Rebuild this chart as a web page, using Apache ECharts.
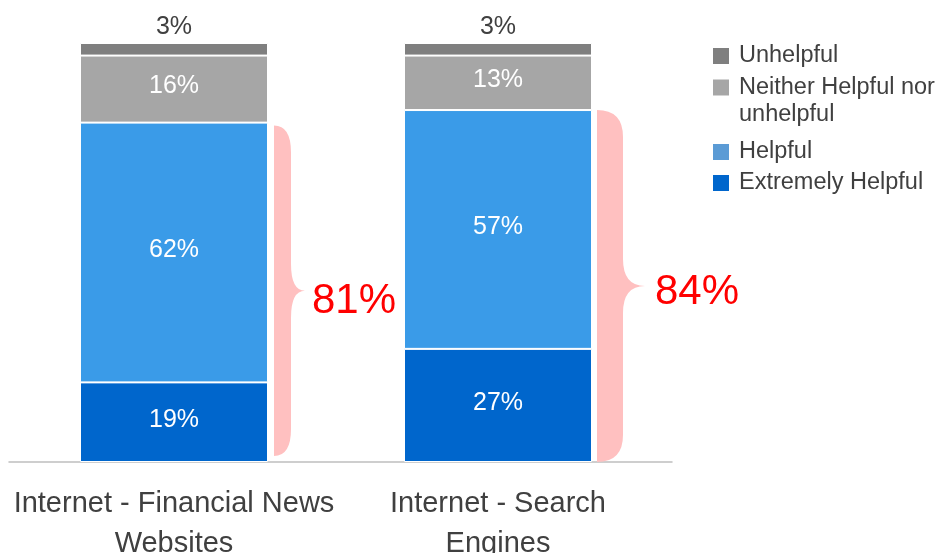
<!DOCTYPE html>
<html>
<head>
<meta charset="utf-8">
<script src="https://cdn.jsdelivr.net/npm/echarts@6/dist/echarts.min.js"></script>
<style>html,body{margin:0;padding:0;background:#fff;}#c{width:942px;height:553px;}</style>
</head>
<body>
<div id="c"></div>
<script>
// ---- data ----
const categories = ['Internet - Financial News\nWebsites', 'Internet - Search\nEngines'];
const extremelyHelpful = [19, 27];
const helpful = [62, 57];
const neither = [16, 13];
const unhelpful = [3, 3];
const helpfulTotals = [81, 84];

const FONT = '"Liberation Sans", Arial, sans-serif';
const chart = echarts.init(document.getElementById('c'), null, {renderer: 'canvas'});

// brace geometry per category (pixels, styling only)
const braceStyle = [
  {gap: 6, body: 17, tip: 14, insetTop: 3, insetBottom: 6, r: 27, labelGap: 7, labelDy: 11},
  {gap: 5, body: 26, tip: 22, insetTop: 0, insetBottom: 0, r: 27, labelGap: 10, labelDy: 6}
];
const BAR_W = 188;

const inLabel = {show: true, position: 'inside', color: '#fff', fontSize: 25, fontFamily: FONT, offset: [0, -2.5], formatter: '{c}%'};
const barStyle = (c) => ({color: c, borderColor: '#fff', borderWidth: 1});

function legendAt(name, top, color, fmt) {
  return {
    orient: 'vertical', left: 713, top: top, padding: 0,
    icon: 'rect', itemWidth: 16, itemHeight: 16,
    selectedMode: false,
    data: [{name: name, itemStyle: {color: color, borderWidth: 0}}],
    formatter: fmt || '{name}',
    textStyle: {color: '#404040', fontSize: 23.5, fontFamily: FONT, lineHeight: 27, padding: [0, 0, 0, 5]}
  };
}

const option = {
  animation: false,
  backgroundColor: '#fff',
  grid: [
    {left: 12, right: 282, top: 43, bottom: 91, containLabel: false, outerBoundsMode: 'none'},
    {left: 9, right: 270, top: 43, bottom: 91, containLabel: false, outerBoundsMode: 'none'}
  ],
  legend: [
    legendAt('Unhelpful', 42.5, '#7F7F7F'),
    legendAt('Neither Helpful nor\nunhelpful', 47, '#A6A6A6', function (n) { return '\n' + n; }),
    legendAt('Helpful', 138.5, '#5B9BD5'),
    legendAt('Extremely Helpful', 169.5, '#0066CC')
  ],
  xAxis: [
    {
      type: 'category', gridIndex: 0, data: categories,
      axisLine: {show: false}, axisTick: {show: false},
      axisLabel: {color: '#404040', fontSize: 29, fontFamily: FONT, lineHeight: 40, margin: 22, interval: 0}
    },
    {
      type: 'value', gridIndex: 1, min: 0, max: 1,
      axisLine: {show: true, lineStyle: {color: '#BFBFBF', width: 1.5}},
      axisTick: {show: false}, axisLabel: {show: false}, splitLine: {show: false}
    }
  ],
  yAxis: [
    {type: 'value', gridIndex: 0, min: 0, max: 100, show: false, splitLine: {show: false}},
    {type: 'value', gridIndex: 1, min: 0, max: 1, show: false, splitLine: {show: false}}
  ],
  series: [
    {name: 'Extremely Helpful', type: 'bar', stack: 's', barWidth: BAR_W, data: extremelyHelpful,
     itemStyle: barStyle('#0066CC'), label: inLabel},
    {name: 'Helpful', type: 'bar', stack: 's', barWidth: BAR_W, data: helpful,
     itemStyle: barStyle('#3A9BE8'), label: inLabel},
    {name: 'Neither Helpful nor\nunhelpful', type: 'bar', stack: 's', barWidth: BAR_W, data: neither,
     itemStyle: barStyle('#A6A6A6'), label: inLabel},
    {name: 'Unhelpful', type: 'bar', stack: 's', barWidth: BAR_W, data: unhelpful,
     itemStyle: barStyle('#7F7F7F'),
     label: {show: true, position: 'top', distance: 3, color: '#404040', fontSize: 25, fontFamily: FONT, formatter: '{c}%'}},
    {
      type: 'custom', name: 'brace', silent: true, z: 5,
      data: helpfulTotals.map((v, i) => [i, v]),
      renderItem: function (params, api) {
        const idx = api.value(0);
        const total = api.value(1);
        const st = braceStyle[idx];
        const base = api.coord([idx, 0]);
        const topP = api.coord([idx, total]);
        const L = base[0] + BAR_W / 2 + st.gap;
        const R = L + st.body;
        const T = R + st.tip;
        const y0 = topP[1] + st.insetTop;
        const y1 = base[1] - st.insetBottom;
        const M = (y0 + y1) / 2;
        const r = st.r;
        const d = 'M' + L + ',' + y0 +
          ' Q' + R + ',' + y0 + ' ' + R + ',' + (y0 + r) +
          ' L' + R + ',' + (M - r) +
          ' Q' + R + ',' + M + ' ' + T + ',' + M +
          ' Q' + R + ',' + M + ' ' + R + ',' + (M + r) +
          ' L' + R + ',' + (y1 - r) +
          ' Q' + R + ',' + y1 + ' ' + L + ',' + y1 + ' Z';
        return {
          type: 'group',
          children: [
            {type: 'path', shape: {pathData: d}, style: {fill: '#FFC0C0', stroke: null}},
            {type: 'text', style: {
              text: total + '%', x: T + st.labelGap, y: M + st.labelDy,
              fill: '#FF0000', font: '42px ' + FONT, align: 'left', verticalAlign: 'middle'
            }}
          ]
        };
      }
    }
  ]
};
chart.setOption(option);
</script>
</body>
</html>
